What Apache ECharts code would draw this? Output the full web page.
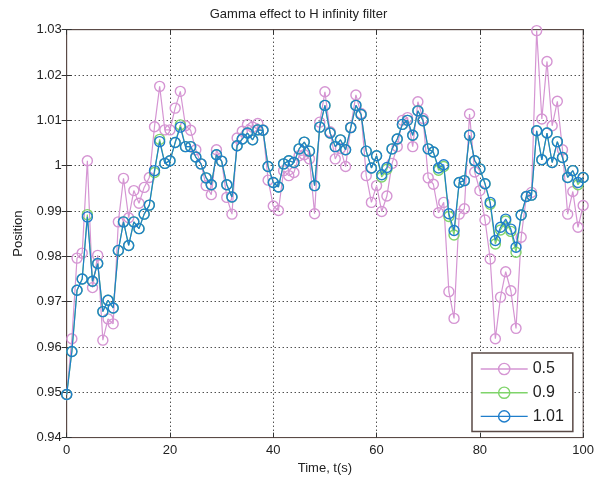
<!DOCTYPE html>
<html><head><meta charset="utf-8">
<script src="https://cdn.jsdelivr.net/npm/echarts@6/dist/echarts.min.js"></script>
<style>html,body{margin:0;padding:0;background:#fff}#c{width:597px;height:484px}</style>
</head><body><div id="c"></div>
<script>
const time = [0,1,2,3,4,5,6,7,8,9,10,11,12,13,14,15,16,17,18,19,20,21,22,23,24,25,26,27,28,29,30,31,32,33,34,35,36,37,38,39,40,41,42,43,44,45,46,47,48,49,50,51,52,53,54,55,56,57,58,59,60,61,62,63,64,65,66,67,68,69,70,71,72,73,74,75,76,77,78,79,80,81,82,83,84,85,86,87,88,89,90,91,92,93,94,95,96,97,98,99,100];
const gamma05 = [0.9495,0.9618,0.9796,0.9807,1.0011,0.9731,0.9802,0.9615,0.9662,0.9651,
0.9876,0.9972,0.9885,0.9945,0.9917,0.9952,0.9974,1.0086,1.0175,1.0079,
1.0079,1.0127,1.0164,1.0088,1.0078,1.0035,1.0004,0.9956,0.9936,1.0035,
1.0010,0.9930,0.9893,1.0061,1.0076,1.0091,1.0085,1.0093,1.0079,0.9968,
0.9911,0.9901,0.9989,0.9978,0.9985,1.0022,1.0024,1.0015,0.9894,1.0096,
1.0163,1.0075,1.0015,1.0038,0.9998,1.0085,1.0156,1.0115,0.9978,0.9919,
0.9956,0.9899,0.9933,1.0005,1.0042,1.0100,1.0106,1.0042,1.0141,1.0104,
0.9973,0.9959,0.9896,0.9919,0.9722,0.9663,0.9893,0.9905,1.0114,0.9986,
0.9945,0.9880,0.9794,0.9618,0.9710,0.9766,0.9724,0.9641,0.9842,0.9932,
0.9941,1.0298,1.0103,1.0230,1.0088,1.0142,1.0035,0.9893,0.9943,0.9864,
0.9912];
const gamma09 = [0.9495,0.9590,0.9725,0.9750,0.9892,0.9745,0.9784,0.9678,0.9703,0.9686,
0.9813,0.9876,0.9824,0.9876,0.9861,0.9893,0.9913,0.9985,1.0058,1.0005,
1.0011,1.0051,1.0090,1.0042,1.0042,1.0019,1.0004,0.9973,0.9958,1.0024,
1.0010,0.9958,0.9931,1.0044,1.0059,1.0072,1.0057,1.0079,1.0078,0.9998,
0.9963,0.9953,1.0004,1.0011,1.0007,1.0037,1.0052,1.0032,0.9956,1.0085,
1.0133,1.0072,1.0042,1.0057,1.0035,1.0084,1.0133,1.0113,1.0032,0.9995,
1.0022,0.9975,0.9992,1.0037,1.0059,1.0091,1.0100,1.0067,1.0121,1.0099,
1.0037,1.0030,0.9990,0.9998,0.9888,0.9847,0.9963,0.9967,1.0067,1.0011,
0.9993,0.9960,0.9915,0.9827,0.9858,0.9878,0.9855,0.9809,0.9891,0.9932,
0.9935,1.0077,1.0013,1.0072,1.0007,1.0053,1.0018,0.9974,0.9989,0.9958,
0.9974];
const gamma101 = [0.9495,0.9590,0.9725,0.9750,0.9887,0.9745,0.9784,0.9678,0.9703,0.9686,
0.9813,0.9876,0.9824,0.9876,0.9861,0.9893,0.9913,0.9989,1.0053,1.0005,
1.0011,1.0051,1.0085,1.0042,1.0042,1.0019,1.0004,0.9973,0.9958,1.0024,
1.0010,0.9958,0.9931,1.0044,1.0059,1.0072,1.0057,1.0079,1.0078,0.9998,
0.9963,0.9953,1.0004,1.0011,1.0007,1.0037,1.0052,1.0032,0.9956,1.0085,
1.0133,1.0072,1.0042,1.0057,1.0035,1.0084,1.0133,1.0113,1.0032,0.9995,
1.0022,0.9980,0.9996,1.0037,1.0059,1.0091,1.0100,1.0067,1.0121,1.0099,
1.0037,1.0030,0.9995,1.0002,0.9894,0.9857,0.9963,0.9967,1.0067,1.0011,
0.9993,0.9960,0.9919,0.9835,0.9864,0.9882,0.9860,0.9820,0.9891,0.9932,
0.9935,1.0077,1.0013,1.0072,1.0007,1.0053,1.0018,0.9974,0.9989,0.9963,
0.9974];
const seriesNames = ['0.5','0.9','1.01'];
const seriesColors = ['#d595d3','#7fd46a','#1f7ecb'];
const xTicks = [0,20,40,60,80,100];

const font = '"Liberation Sans", Arial, sans-serif';
const pairs = arr => time.map((t,i)=>[t, arr[i]]);
const allData = [gamma05, gamma09, gamma101];
const chart = echarts.init(document.getElementById('c'), null, {renderer:'canvas'});
const dotted = {show:true, lineStyle:{color:'#000', type:[1,3], width:1}};
chart.setOption({
  animation:false,
  backgroundColor:'#fff',
  title:{text:'Gamma effect to H infinity filter', left:'center', top:3,
    textStyle:{fontFamily:font, fontSize:13, fontWeight:'normal', color:'#222'}},
  grid:{left:66.7, right:12, top:29.7, bottom:46.4, show:true, borderColor:'#5a4a46', borderWidth:1, backgroundColor:'#fff'},
  legend:{orient:'vertical', left:472, top:353, itemWidth:47, itemHeight:14, itemGap:7.7,
    padding:[8,9,7,8], backgroundColor:'#fff', borderColor:'#5a4a46', borderWidth:1.5,
    textStyle:{fontFamily:font, fontSize:16, color:'#222'},
    data:seriesNames.map((n,k)=>({name:n,
      itemStyle:{color:'rgba(255,255,255,0)', borderColor:seriesColors[k], borderWidth:1.4},
      lineStyle:{color:seriesColors[k], width:1.4}}))},
  xAxis:[{type:'value', min:0, max:100, interval:20, name:'Time, t(s)', nameLocation:'middle', nameGap:24,
    nameTextStyle:{fontFamily:font, fontSize:13, color:'#222'},
    axisLine:{show:true, lineStyle:{color:'#5a4a46'}}, axisTick:{show:true, inside:true, length:5, lineStyle:{color:'#333'}},
    axisLabel:{fontFamily:font, fontSize:13, color:'#222', margin:6, formatter:v=>xTicks.includes(v)?String(v):''},
    splitLine:dotted},
   {type:'value', position:'top', min:0, max:100, interval:20, axisLine:{show:true, lineStyle:{color:'#5a4a46'}},
    axisTick:{show:true, inside:true, length:5, lineStyle:{color:'#333'}}, axisLabel:{show:false}, splitLine:{show:false}}],
  yAxis:[{type:'value', min:0.94, max:1.03, interval:0.01, name:'Position', nameLocation:'middle', nameGap:42,
    nameTextStyle:{fontFamily:font, fontSize:13, color:'#222'},
    axisLine:{show:true, lineStyle:{color:'#5a4a46'}}, axisTick:{show:true, inside:true, length:5, lineStyle:{color:'#333'}},
    axisLabel:{fontFamily:font, fontSize:13, color:'#222', margin:5, formatter:v=>String(parseFloat(v.toFixed(2)))},
    splitLine:dotted},
   {type:'value', position:'right', min:0.94, max:1.03, interval:0.01, axisLine:{show:true, lineStyle:{color:'#5a4a46'}},
    axisTick:{show:true, inside:true, length:5, lineStyle:{color:'#333'}}, axisLabel:{show:false}, splitLine:{show:false}}],
  series: seriesNames.map((n,k)=>({
    name:n, type:'line', data:pairs(allData[k]), symbol:'circle', symbolSize:10,
    showAllSymbol:true, z:2+k,
    lineStyle:{color:seriesColors[k], width:1.2},
    itemStyle:{color:'rgba(255,255,255,0)', borderColor:seriesColors[k], borderWidth:1.4},
    emphasis:{disabled:true}
  }))
});
</script></body></html>
